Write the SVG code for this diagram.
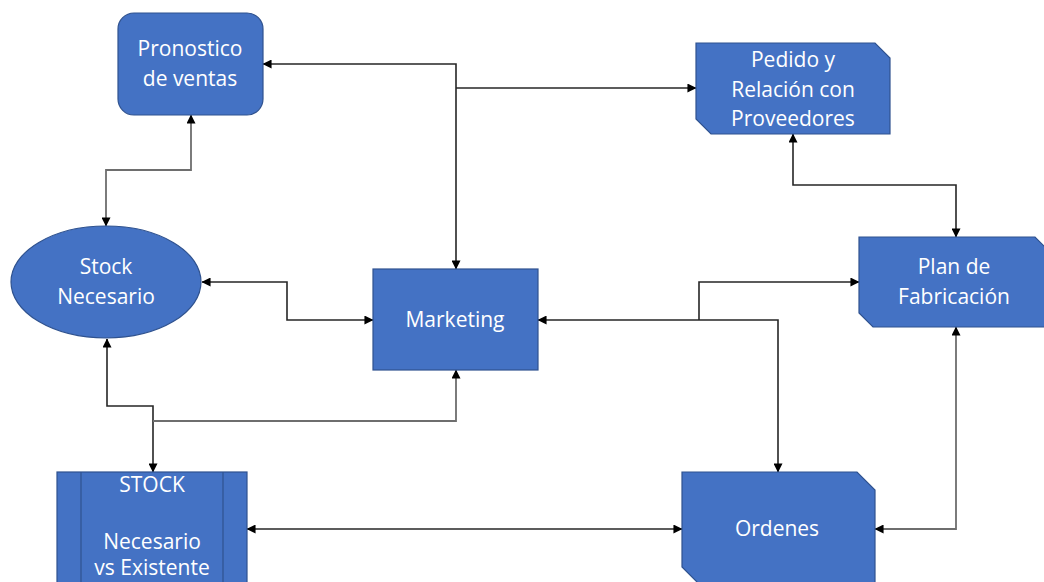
<svg xmlns="http://www.w3.org/2000/svg" width="1044" height="582" viewBox="0 0 1044 582">
  <style>
    .shape { fill: #4472C4; stroke: #2F528F; stroke-width: 1.2; }
    .bar { fill: none; stroke: #2F528F; stroke-width: 1.2; }
    .label { font-family: "Open Sans", "Liberation Sans", sans-serif; font-size: 21px; fill: #ffffff; text-anchor: middle; }
    .link { fill: none; stroke: #262626; stroke-width: 1.6; }
    .link.soft { stroke: #6e6e6e; stroke-width: 1.8; }
  </style>
  <defs>
    <marker id="arrow" viewBox="0 0 10 10" refX="9.5" refY="5" markerWidth="9" markerHeight="9" markerUnits="userSpaceOnUse" orient="auto-start-reverse">
      <path d="M0,0 L10,5 L0,10 Z" fill="#000000"/>
    </marker>
  </defs>

  <!-- connectors -->
  <g id="connectors">
    <!-- Pronostico <-> Marketing (top) -->
    <path class="link" d="M263,64 H456 V269" marker-start="url(#arrow)" marker-end="url(#arrow)"/>
    <!-- branch to Pedido -->
    <path class="link" d="M456,88 H696" marker-end="url(#arrow)"/>
    <!-- Pronostico <-> Stock Necesario -->
    <path class="link soft" d="M191,115 V170 H106 V226" marker-start="url(#arrow)" marker-end="url(#arrow)"/>
    <!-- Stock Necesario <-> Marketing -->
    <path class="link" d="M202,282 H287 V320 H373" marker-start="url(#arrow)" marker-end="url(#arrow)"/>
    <!-- Stock Necesario <-> STOCK -->
    <path class="link" d="M107,339 V406 H153 V472" marker-start="url(#arrow)" marker-end="url(#arrow)"/>
    <!-- STOCK branch -> Marketing -->
    <path class="link soft" d="M153,421 H456 V370" marker-end="url(#arrow)"/>
    <!-- Pedido <-> Plan -->
    <path class="link" d="M793,134 V185 H956 V237" marker-start="url(#arrow)" marker-end="url(#arrow)"/>
    <!-- Marketing <-> Ordenes -->
    <path class="link" d="M778,472 V320 H538" marker-start="url(#arrow)" marker-end="url(#arrow)"/>
    <!-- branch -> Plan -->
    <path class="link" d="M699,320 V282 H859" marker-end="url(#arrow)"/>
    <!-- Plan <-> Ordenes -->
    <path class="link soft" d="M956,327 V529 H875" marker-start="url(#arrow)" marker-end="url(#arrow)"/>
    <!-- STOCK <-> Ordenes -->
    <path class="link" d="M247,529 H682" marker-start="url(#arrow)" marker-end="url(#arrow)"/>
  </g>

  <g id="pronostico">
    <rect class="shape" x="118" y="13" width="145" height="102" rx="16" ry="16"/>
    <text class="label" x="190" y="56">Pronostico</text>
    <text class="label" x="190" y="86">de ventas</text>
  </g>

  <g id="pedido">
    <path class="shape" d="M696,43 H875 L890,58 V134 H711 L696,119 Z"/>
    <text class="label" x="793" y="67">Pedido y</text>
    <text class="label" x="793" y="97">Relación con</text>
    <text class="label" x="793" y="126">Proveedores</text>
  </g>

  <g id="stock-necesario">
    <ellipse class="shape" cx="106" cy="282" rx="95" ry="56"/>
    <text class="label" x="106" y="274">Stock</text>
    <text class="label" x="106" y="304">Necesario</text>
  </g>

  <g id="marketing">
    <rect class="shape" x="373" y="269" width="165" height="101"/>
    <text class="label" x="455" y="327">Marketing</text>
  </g>

  <g id="plan">
    <path class="shape" d="M859,237 H1035 L1049,251 V327 H873 L859,313 Z"/>
    <text class="label" x="954" y="274">Plan de</text>
    <text class="label" x="954" y="304">Fabricación</text>
  </g>

  <g id="stock">
    <rect class="shape" x="57" y="472" width="190" height="130"/>
    <line class="bar" x1="81" y1="472" x2="81" y2="602"/>
    <line class="bar" x1="223" y1="472" x2="223" y2="602"/>
    <text class="label" x="152" y="492">STOCK</text>
    <text class="label" x="152" y="549">Necesario</text>
    <text class="label" x="152" y="575">vs Existente</text>
  </g>

  <g id="ordenes">
    <path class="shape" d="M682,472 H857 L875,490 V585 H700 L682,567 Z"/>
    <text class="label" x="777" y="536">Ordenes</text>
  </g>
</svg>
